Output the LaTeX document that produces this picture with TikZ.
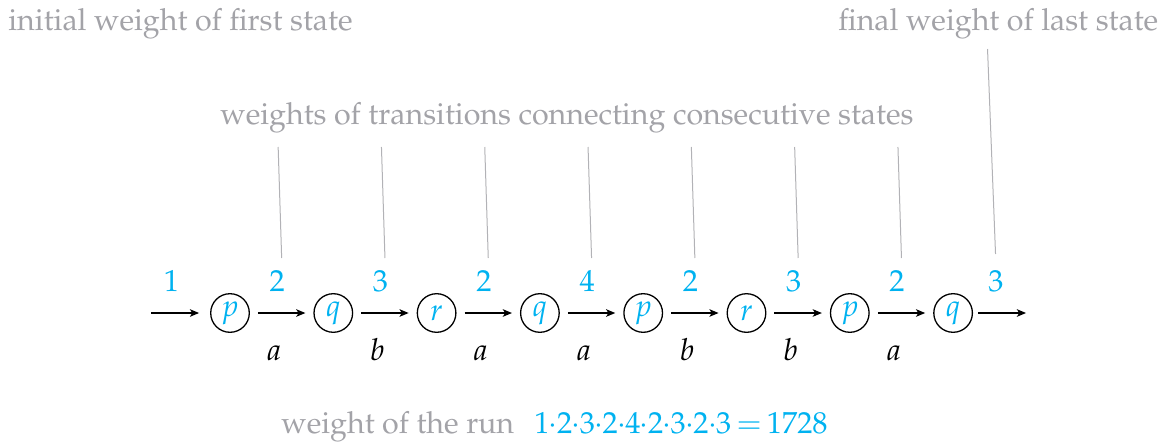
\documentclass[tikz,border=0pt]{standalone}
\usepackage[T1]{fontenc}
\usepackage{mathpazo}
\usetikzlibrary{arrows.meta,calc}
\definecolor{wblue}{RGB}{0,178,240}
\definecolor{tgray}{RGB}{163,163,168}
\definecolor{lgray}{RGB}{178,178,182}
\newcommand{\dt}{\mkern-0.6mu{\cdot}\mkern-0.6mu}
\newcommand{\eqsign}{\mkern3mu{=}\mkern3mu}
\begin{document}
\begin{tikzpicture}[x=0.5pt,y=-0.5pt,
 every node/.style={font=\fontsize{15.2}{18}\selectfont},
 state/.style={circle,draw,line width=0.65pt,minimum size=19.3pt,inner sep=0pt,text=wblue},
 arr/.style={line width=0.55pt,-{Stealth[length=4.6pt,width=3.8pt,inset=1.2pt]},shorten <=4pt,shorten >=4pt},
 wt/.style={text=wblue,anchor=base,inner sep=0pt,yshift=11pt},
 sym/.style={anchor=base,inner sep=0pt,yshift=-23.5pt},
 note/.style={text=tgray,anchor=base west,inner sep=0pt},
 guide/.style={draw=lgray,line width=0.5pt}]
\useasboundingbox (0,0) rectangle (1171,444);
\foreach \n/\l [count=\i from 0] in {p1/p,q1/q,r1/r,q2/q,p2/p,r2/r,p3/p,q3/q}
  \node[state] (\n) at ({230+103.3*\i},313) {$\l$};
\coordinate (s) at (151,313);
\coordinate (f) at (1026,313);
\draw[arr,shorten <=0pt,shorten >=5.5pt] (s) -- (p1) node[wt,midway,xshift=-4.5pt] (w0) {1};
\draw[arr] (p1) -- (q1) node[wt,midway,xshift=-2.2pt] (w1) {2} node[sym,midway,xshift=-3.8pt] (l1) {$a$};
\draw[arr] (q1) -- (r1) node[wt,midway,xshift=-2.2pt] (w2) {3} node[sym,midway,xshift=-3.8pt] (l2) {$b$};
\draw[arr] (r1) -- (q2) node[wt,midway,xshift=-2.2pt] (w3) {2} node[sym,midway,xshift=-3.8pt] (l3) {$a$};
\draw[arr] (q2) -- (p2) node[wt,midway,xshift=-2.2pt] (w4) {4} node[sym,midway,xshift=-3.8pt] (l4) {$a$};
\draw[arr] (p2) -- (r2) node[wt,midway,xshift=-2.2pt] (w5) {2} node[sym,midway,xshift=-3.8pt] (l5) {$b$};
\draw[arr] (r2) -- (p3) node[wt,midway,xshift=-2.2pt] (w6) {3} node[sym,midway,xshift=-3.8pt] (l6) {$b$};
\draw[arr] (p3) -- (q3) node[wt,midway,xshift=-2.2pt] (w7) {2} node[sym,midway,xshift=-3.8pt] (l7) {$a$};
\draw[arr,shorten <=2.5pt,shorten >=0pt] (q3) -- (f) node[wt,midway,xshift=-1.8pt] (w8) {3};
\node[note] (tinit) at (8,31) {initial weight of first state};
\node[note] (tfinal) at (838,31) {final weight of last state};
\node[note] (ttrans) at (220,125) {weights of transitions connecting consecutive states};
\node[note] (trun) at (281,433) {weight of the run};
\node[text=wblue,anchor=base west,inner sep=0pt] (tform) at (534,433) {$1\dt2\dt3\dt2\dt4\dt2\dt3\dt2\dt3\eqsign1728$};
\foreach \a/\b in {p1/q1,q1/r1,r1/q2,q2/p2,p2/r2,r2/p3,p3/q3}
  \draw[guide] ($(\a)!.5!(\b)+(0,-55)$) -- ($(\a)!.5!(\b)+(-3.5,-166)$);
\draw[guide] ($(q3.east)!.5!(f)+(-4,-59)$) -- ($(q3.east)!.5!(f)+(-12,-264)$);
\end{tikzpicture}
\end{document}
